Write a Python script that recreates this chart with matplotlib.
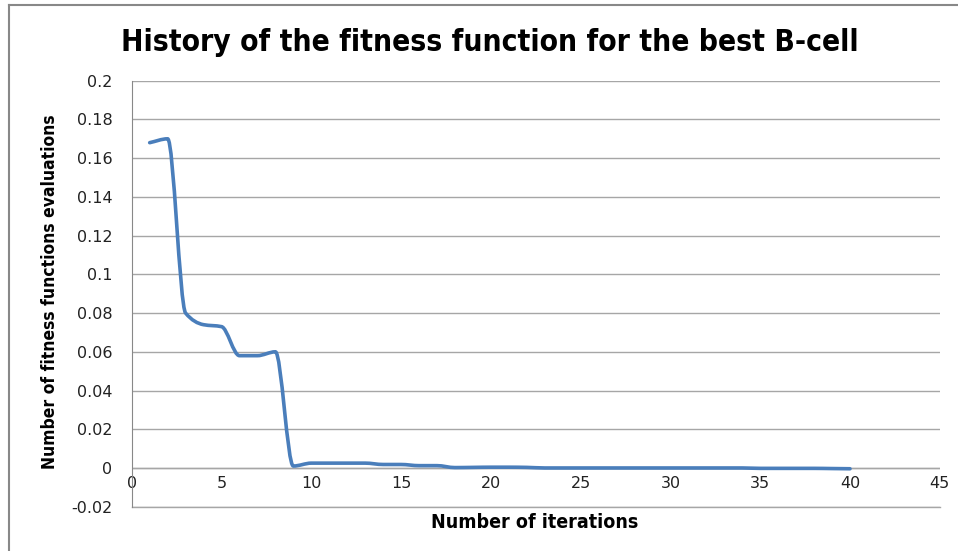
import matplotlib
matplotlib.use('Agg')
import matplotlib.pyplot as plt
import numpy as np
from matplotlib.path import Path
from matplotlib.patches import PathPatch
from matplotlib.lines import Line2D

iterations = list(range(1, 41))
fitness = [0.168, 0.170, 0.080, 0.074, 0.073, 0.058, 0.058, 0.060, 0.001, 0.0025,
           0.0025, 0.0025, 0.0025, 0.0018, 0.0018, 0.0012, 0.0012, 0.0002, 0.0003, 0.0004,
           0.0004, 0.0003, 0.0, 0.0, 0.0, 0.0, 0.0, 0.0, 0.0, 0.0,
           0.0, 0.0, 0.0, 0.0, -0.0002, -0.0002, -0.0002, -0.0002, -0.0003, -0.0004]

y_ticks = [-0.02, 0, 0.02, 0.04, 0.06, 0.08, 0.1, 0.12, 0.14, 0.16, 0.18, 0.2]
y_tick_labels = ['-0.02', '0', '0.02', '0.04', '0.06', '0.08', '0.1', '0.12', '0.14', '0.16', '0.18', '0.2']
x_ticks = [0, 5, 10, 15, 20, 25, 30, 35, 40, 45]

line_color = '#4a7ebb'
grid_color = '#a6a6a6'

fig = plt.figure(figsize=(9.58, 5.51), dpi=100)
ax = fig.add_axes([0.1375, 0.0804, 0.981 - 0.1375, 0.8535 - 0.0804])

# smoothed line: monotone cubic tangents, drawn as bezier segments
x = np.array(iterations, dtype=float)
y = np.array(fitness)
d = np.diff(y) / np.diff(x)
m = np.zeros_like(y)
m[0], m[-1] = d[0], d[-1]
for i in range(1, len(y) - 1):
    if d[i - 1] * d[i] > 0:
        m[i] = 2 * d[i - 1] * d[i] / (d[i - 1] + d[i])
verts = [(x[0], y[0])]
codes = [Path.MOVETO]
for i in range(len(x) - 1):
    h = x[i + 1] - x[i]
    verts += [(x[i] + h / 3, y[i] + m[i] * h / 3),
              (x[i + 1] - h / 3, y[i + 1] - m[i + 1] * h / 3),
              (x[i + 1], y[i + 1])]
    codes += [Path.CURVE4] * 3
ax.add_patch(PathPatch(Path(verts, codes), fill=False, edgecolor=line_color,
                       lw=2.6, capstyle='round', joinstyle='round', zorder=3))

ax.set_xlim(0, 45)
ax.set_ylim(-0.02, 0.2)
ax.set_yticks(y_ticks)
ax.set_yticklabels(y_tick_labels)
ax.set_xticks(x_ticks)
ax.grid(axis='y', color=grid_color, lw=1)
ax.set_axisbelow(True)

for s in ['top', 'right', 'bottom']:
    ax.spines[s].set_visible(False)
ax.spines['left'].set_color('#888888')
ax.axhline(0, color=grid_color, lw=1, zorder=1)
ax.axhline(-0.02, color=grid_color, lw=1, zorder=1, clip_on=False)
ax.tick_params(axis='both', length=0, labelsize=11.5, colors='#222222')
ax.tick_params(axis='y', pad=14)
ax.tick_params(axis='x', pad=-22)

fig.text(0.5115, 0.923, 'History of the fitness function for the best B-cell',
         ha='center', va='center', fontsize=21.5, fontweight='bold',
         family='DejaVu Sans', stretch='condensed')
fig.text(0.558, 0.052, 'Number of iterations', ha='center', va='center',
         fontsize=14, fontweight='bold', family='DejaVu Sans', stretch='condensed')
fig.text(0.052, 0.47, 'Number of fitness functions evaluations', ha='center', va='center',
         rotation=90, fontsize=12.5, fontweight='bold', family='DejaVu Sans', stretch='condensed')

# chart border
fig.add_artist(Line2D([0.0094, 1], [0.9905, 0.9905], color='#888888', lw=1.5))
fig.add_artist(Line2D([0.0094, 0.0094], [0, 0.9905], color='#888888', lw=1.5))

fig.savefig('out.png', dpi=100, facecolor='white')
